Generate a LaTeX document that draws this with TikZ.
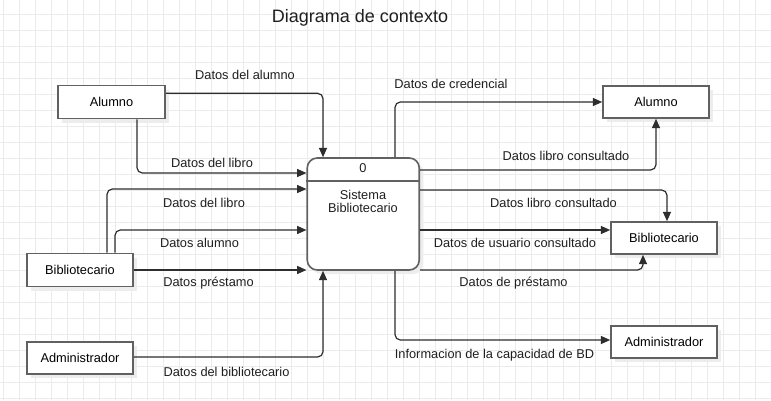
\documentclass[tikz,border=0pt]{standalone}
\usepackage{fontspec}
\setmainfont{Liberation Sans}
\usetikzlibrary{arrows.meta,shadows}

\tikzset{every picture/.style={line width=0.75pt}}
\tikzset{
  gridline/.style={draw=black!8, line width=0.75pt},
  entidad/.style={draw=black!62, line width=1.2pt, fill=white, inner sep=0pt,
    minimum width=79.5pt, minimum height=24pt, font=\fontsize{9.6}{11}\selectfont,
    drop shadow={shadow xshift=3pt, shadow yshift=-3pt, fill=black!7, opacity=1}},
  flujo/.style={draw=black!82, line width=0.9pt, rounded corners=4pt,
    -{Triangle[length=7pt,width=6pt]}},
  etiqueta/.style={inner sep=0.75pt, text=black!88, font=\fontsize{9.6}{11}\selectfont}
}

\begin{document}
\begin{tikzpicture}[x=0.75pt,y=0.75pt,yscale=-1,xscale=1]
\useasboundingbox (0,0) rectangle (771,400);
%Grid
\fill[white] (0,0) rectangle (771,400);
\foreach \gx in {3,19,...,771} {\draw[gridline] (\gx,0) -- (\gx,400);}
\foreach \gy in {14,30,...,400} {\draw[gridline] (0,\gy) -- (771,\gy);}

% Title
\node[etiqueta, font=\fontsize{13.5}{16}\selectfont] (titulo) at (360,18) {Diagrama de contexto};

%Shape: Rounded Rect (proceso)
\node[draw=black!62, line width=1.2pt, fill=white, rounded corners=7.5pt, minimum width=84pt, minimum height=84pt,
  drop shadow={shadow xshift=3pt, shadow yshift=-3pt, fill=black!7, opacity=1}] (proceso) at (363.25,214) {};
\draw[black!62, line width=1.2pt] (proceso.west |- 0,181) -- (proceso.east |- 0,181);
\node[etiqueta] (procnum) at (363,168) {0};
\node[etiqueta, align=center, font=\fontsize{9.6}{9.8}\selectfont] (procnombre) at (363,201.5) {Sistema\\Bibliotecario};

%Shape: Rectangle (externas izquierda)
\node[entidad, minimum width=80.25pt, minimum height=24.75pt] (alumnoL) at (111.5,102) {Alumno};
\node[entidad, minimum height=24.75pt] (biblioL) at (80,270) {Bibliotecario};
\node[entidad] (adminL) at (80,358) {Administrador};

%Shape: Rectangle (externas derecha)
\node[entidad] (alumnoR) at (656,102) {Alumno};
\node[entidad] (biblioR) at (664,238) {Bibliotecario};
\node[entidad] (adminR) at (664,342) {Administrador};

%Straight Lines (entradas)
\draw[flujo] (alumnoL.east |- 0,93.3) -| (proceso.north -| 323,0);
\draw[flujo] (alumnoL.south -| 137,0) |- (proceso.west |- 0,173);
\draw[flujo] (biblioL.north -| 107,0) |- (proceso.west |- 0,189);
\draw[flujo] (biblioL.north -| 115,0) |- (proceso.west |- 0,230);
\draw[flujo] (biblioL.east) -- (proceso.west |- biblioL.east);
\draw[flujo] (adminL.east |- 0,357) -| (proceso.south -| 323,0);

%Straight Lines (salidas)
\draw[flujo] (proceso.north -| 395,0) |- (alumnoR.west);
\draw[flujo] (proceso.east |- 0,170) -| (alumnoR.south);
\draw[flujo] (proceso.east |- 0,190) -| (biblioR.north -| 667,0);
\draw[flujo] (proceso.east |- 0,230) -- (biblioR.west |- 0,230);
\draw[flujo] (proceso.east |- 0,270) -| (biblioR.south -| 643,0);
\draw[flujo] (proceso.south -| 395,0) |- (adminR.west |- 0,340);

% Text Node
\node[etiqueta] (lblAlumno) at (245,75) {Datos del alumno};
\node[etiqueta] (lblLibroA) at (212,163) {Datos del libro};
\node[etiqueta] (lblLibroB) at (204,202.5) {Datos del libro};
\node[etiqueta] (lblDatAlumno) at (199.5,242.5) {Datos alumno};
\node[etiqueta] (lblPrestamo) at (208.5,283.5) {Datos préstamo};
\node[etiqueta] (lblBiblio) at (226.5,371.5) {Datos del bibliotecario};
\node[etiqueta] (lblCredencial) at (451,84) {Datos de credencial};
\node[etiqueta] (lblConsultA) at (566,156) {Datos libro consultado};
\node[etiqueta] (lblConsultB) at (553.5,202.5) {Datos libro consultado};
\node[etiqueta] (lblUsuario) at (515,242.5) {Datos de usuario consultado};
\node[etiqueta] (lblPrestamoR) at (513.5,283.5) {Datos de préstamo};
\node[etiqueta] (lblCapacidad) at (494.5,355) {Informacion de la capacidad de BD};

\end{tikzpicture}
\end{document}
